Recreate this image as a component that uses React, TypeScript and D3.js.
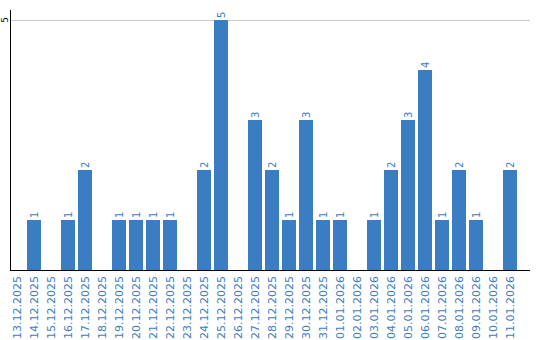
import React from "react";
import * as d3 from "d3";

const categories = [
  "13.12.2025","14.12.2025","15.12.2025","16.12.2025","17.12.2025","18.12.2025",
  "19.12.2025","20.12.2025","21.12.2025","22.12.2025","23.12.2025","24.12.2025",
  "25.12.2025","26.12.2025","27.12.2025","28.12.2025","29.12.2025","30.12.2025",
  "31.12.2025","01.01.2026","02.01.2026","03.01.2026","04.01.2026","05.01.2026",
  "06.01.2026","07.01.2026","08.01.2026","09.01.2026","10.01.2026","11.01.2026",
];
const values = [0,1,0,1,2,0,1,1,1,1,0,2,5,0,3,2,1,3,1,1,0,1,2,3,4,1,2,1,0,2];
const yTicks = [5];

const W = 540, H = 340;
const left = 10, top = 20, bottom = 270, axisRight = 530;
const BLUE = "#3b7dc3";
const FONT = "DejaVu Sans, Verdana, sans-serif";

export default function App() {
  const x = d3.scaleBand<string>().domain(categories).range([left, left + 30 * 17 - 3]).paddingInner(3 / 17).paddingOuter(0);
  const y = d3.scaleLinear().domain([0, 5]).range([bottom, top]);
  return (
    <svg width={W} height={H} style={{ position: "absolute", left: 0, top: 0 }} shapeRendering="crispEdges">
      {yTicks.map((t) => (
        <g key={t}>
          <line x1={left} x2={axisRight} y1={y(t) + 0.5} y2={y(t) + 0.5} stroke="#cccccc" />
          <text transform={`translate(5,${y(t)}) rotate(-90)`} textAnchor="middle" dy="0.35em" fontSize={9} fontFamily={FONT} fill="#000">{t}</text>
        </g>
      ))}
      {categories.map((c, i) => {
        const v = values[i];
        const cx = (x(c) as number) + x.bandwidth() / 2;
        return (
          <g key={c}>
            {v > 0 && (
              <rect x={x(c)} y={y(v)} width={x.bandwidth()} height={y(0) - y(v)} fill={BLUE} />
            )}
            {v > 0 && (
              <text transform={`translate(${cx},${y(v) - 2}) rotate(-90)`} textAnchor="start" dy="0.35em" fontSize={10} fontFamily={FONT} fill={BLUE}>{v}</text>
            )}
            <text transform={`translate(${cx},${bottom + 6}) rotate(-90)`} textAnchor="end" dy="0.35em" fontSize={11} fontFamily={FONT} fill={BLUE}>{c}</text>
          </g>
        );
      })}
      <line x1={left + 0.5} x2={left + 0.5} y1={10} y2={bottom + 1} stroke="#000" />
      <line x1={left} x2={axisRight} y1={bottom + 0.5} y2={bottom + 0.5} stroke="#000" />
    </svg>
  );
}
